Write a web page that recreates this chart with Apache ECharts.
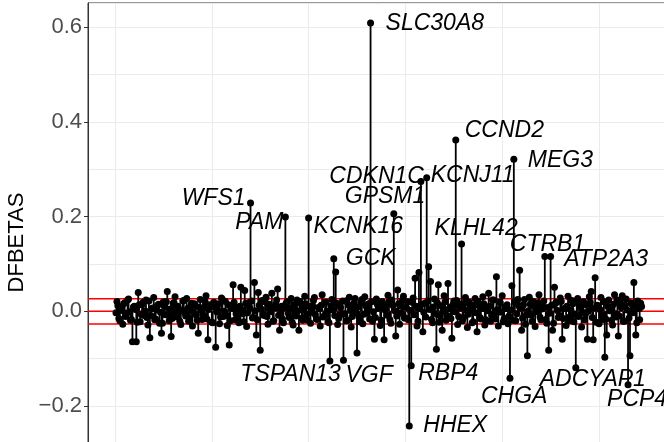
<!DOCTYPE html>
<html style="height: 100%">
<head>
    <meta charset="UTF-8">
    <title>DFBETAS</title>
</head>
<body style="height: 100%; margin: 0">
    <div id="container" style="width: 664px; height: 442px"></div>

    <script src="https://cdn.jsdelivr.net/npm/echarts@6/dist/echarts.min.js"></script>

    <script type="text/javascript">
        // DFBETAS per gene, gene order 1..544
        var dfbetas = [
            -0.003, 0.021, 0.012, -0.015, -0.020, 0.008, 0.002, -0.027, 0.016, 0.018, -0.011, -0.004, 0.024, 0.026, -0.001, -0.019,
            -0.017, -0.064, 0.009, 0.011, 0.004, -0.064, -0.023, 0.040, 0.014, -0.022, -0.006, 0.015, 0.019, -0.009, 0.001, 0.024,
            -0.013, -0.029, 0.022, -0.056, -0.009, 0.006, 0.007, 0.029, -0.018, -0.016, 0.003, 0.013, 0.015, -0.025, -0.002, -0.046,
            -0.025, 0.020, 0.010, -0.007, 0.020, 0.042, -0.008, -0.020, 0.005, -0.053, -0.015, 0.017, 0.018, 0.031, -0.004, -0.012,
            0.011, 0.005, -0.021, -0.028, 0.001, 0.022, 0.023, -0.003, -0.010, 0.027, 0.006, -0.021, -0.014, 0.010, 0.017, -0.031,
            -0.002, 0.016, 0.013, -0.008, -0.019, -0.046, 0.008, 0.025, 0.002, -0.017, -0.007, 0.009, 0.021, 0.033, -0.016, -0.060,
            0.004, 0.014, 0.012, -0.023, -0.024, 0.019, 0.009, -0.076, -0.001, 0.004, 0.016, -0.026, -0.012, 0.028, 0.025, -0.011,
            0.000, 0.021, -0.009, -0.030, 0.014, -0.071, -0.020, 0.012, 0.006, 0.056, 0.019, -0.018, -0.005, 0.007, -0.015, -0.024,
            0.011, 0.051, 0.003, -0.005, -0.022, 0.044, 0.017, -0.032, -0.003, 0.018, 0.008, 0.229, 0.022, -0.014, -0.013, 0.061,
            0.001, -0.050, -0.018, 0.040, 0.013, -0.082, 0.005, 0.023, -0.006, -0.009, 0.020, 0.030, -0.011, -0.027, 0.015, 0.006,
            -0.001, 0.038, -0.021, -0.020, 0.009, 0.015, 0.024, 0.047, -0.008, -0.040, 0.002, 0.011, -0.016, -0.024, 0.012, 0.199,
            0.018, 0.020, -0.004, -0.013, 0.007, 0.027, -0.023, -0.029, 0.014, 0.003, -0.010, 0.024, 0.001, -0.040, 0.021, 0.016,
            -0.014, -0.019, 0.004, 0.032, 0.016, -0.007, -0.019, 0.197, 0.010, -0.025, -0.002, 0.012, 0.023, 0.029, -0.007, -0.016,
            -0.017, 0.008, 0.006, -0.031, 0.013, 0.035, -0.012, -0.010, 0.019, 0.019, 0.000, -0.022, -0.024, -0.105, 0.011, 0.025,
            0.003, 0.111, -0.009, 0.083, 0.017, -0.028, -0.015, 0.014, 0.008, -0.006, 0.022, -0.103, -0.005, 0.022, -0.020, -0.019,
            0.014, 0.030, 0.002, -0.033, -0.011, 0.010, 0.018, 0.027, -0.003, -0.088, 0.009, -0.012, -0.022, 0.018, 0.025, -0.026,
            -0.006, 0.031, 0.012, -0.004, 0.005, 0.016, -0.016, 0.609, 0.020, -0.021, -0.001, -0.059, -0.013, 0.026, 0.015, 0.007,
            0.007, -0.030, -0.019, 0.021, 0.010, -0.060, 0.003, 0.013, -0.008, 0.034, 0.021, -0.018, -0.025, 0.024, 0.013, 0.206,
            0.001, -0.052, -0.010, 0.045, 0.016, -0.027, -0.004, 0.011, 0.024, 0.032, -0.014, -0.014, 0.008, 0.020, -0.018, -0.242,
            0.002, -0.115, 0.019, 0.028, -0.007, 0.070, 0.011, -0.031, -0.021, 0.082, 0.006, 0.274, 0.015, -0.043, -0.002, 0.017,
            -0.012, 0.282, 0.022, 0.094, 0.004, 0.063, -0.017, -0.024, 0.009, 0.026, -0.005, -0.080, 0.018, 0.056, -0.023, -0.010,
            0.012, -0.040, 0.000, 0.033, 0.020, -0.019, -0.009, 0.059, 0.005, 0.008, -0.015, -0.057, 0.014, 0.022, -0.001, 0.362,
            0.023, -0.028, -0.011, 0.015, 0.007, 0.142, -0.020, -0.013, 0.017, 0.029, 0.002, -0.034, -0.006, 0.019, 0.010, 0.004,
            -0.024, -0.022, 0.013, 0.027, -0.003, -0.043, 0.021, 0.012, -0.013, -0.016, 0.006, 0.031, 0.016, -0.029, -0.018, 0.009,
            0.001, 0.038, 0.011, -0.021, -0.008, 0.024, 0.024, -0.006, -0.016, 0.073, 0.004, -0.031, 0.019, 0.018, -0.002, 0.033,
            -0.022, -0.015, 0.009, 0.006, 0.014, -0.026, -0.010, -0.141, 0.003, 0.054, -0.019, 0.321, 0.020, -0.020, -0.005, 0.025,
            0.012, 0.087, 0.007, -0.040, -0.014, 0.014, 0.025, -0.027, -0.007, -0.094, 0.001, 0.030, 0.015, -0.008, -0.021, 0.021,
            0.010, -0.032, -0.001, 0.017, 0.018, 0.035, -0.012, -0.018, 0.005, 0.010, 0.022, 0.116, -0.017, -0.025, 0.008, -0.082,
            -0.004, 0.116, 0.013, -0.040, -0.025, 0.051, 0.017, 0.019, 0.002, -0.013, -0.009, 0.028, 0.021, -0.059, -0.015, 0.006,
            0.006, -0.030, 0.011, 0.032, -0.020, -0.011, 0.003, 0.023, 0.016, -0.022, -0.006, -0.119, 0.023, 0.027, -0.011, 0.014,
            0.009, -0.033, -0.002, 0.020, -0.018, -0.005, 0.014, -0.059, 0.000, 0.031, 0.019, 0.042, -0.013, -0.060, 0.007, 0.071,
            -0.023, 0.013, 0.012, -0.026, 0.004, 0.029, -0.008, -0.017, 0.020, -0.097, -0.016, -0.050, 0.010, 0.024, 0.001, 0.008,
            -0.019, -0.029, 0.015, 0.035, -0.005, -0.012, 0.024, -0.052, -0.010, 0.018, 0.008, 0.033, -0.021, -0.021, 0.013, 0.026,
            0.003, -0.155, -0.014, -0.094, 0.018, 0.015, -0.003, 0.061, 0.011, -0.050, -0.024, 0.022, 0.006, -0.018, 0.017, 0.010
        ];

        // labelled genes (position in the order above)
        var geneIndex = [140, 176, 200, 222, 226, 236, 264, 288, 304, 306, 316, 322, 352, 358, 408, 412, 444, 476, 496, 530];
        var geneNames = ['WFS1', 'PAM', 'KCNK16', 'TSPAN13', 'GCK', 'VGF', 'SLC30A8', 'GPSM1', 'HHEX', 'RBP4',
            'CDKN1C', 'KCNJ11', 'CCND2', 'KLHL42', 'CHGA', 'MEG3', 'CTRB1', 'ADCYAP1', 'ATP2A3', 'PCP4'];

        // cutoff lines
        var cutoffs = [0.0265, 0, -0.0265];

        // axis ranges
        var xMin = -27.9, xMax = 575.4;
        var yMin = -0.3603, yMax = 0.651;

        // where each repelled label sits relative to its point
        var labelPlace = {
            WFS1: ['right', -5, -4], PAM: ['right', -2, 6], KCNK16: ['left', 5, 9],
            TSPAN13: ['right', 11, 14], GCK: ['left', 12, 0], VGF: ['left', 2, 15],
            SLC30A8: ['left', 15, 1], GPSM1: ['left', -49, -17], HHEX: ['left', 14, 0],
            RBP4: ['left', 7, 8], CDKN1C: ['right', 3, -5], KCNJ11: ['left', 4, -2],
            CCND2: ['left', 9, -9], KLHL42: ['left', -27, -15], CHGA: ['left', -29, 18],
            MEG3: ['left', 14, 1], CTRB1: ['left', -35, -12], ADCYAP1: ['left', -36, 12],
            ATP2A3: ['left', -31, -18], PCP4: ['left', -21, 15]
        };

        var dom = document.getElementById('container');
        var myChart = echarts.init(dom, null, {renderer: 'canvas'});

        var points = [];
        var sticks = [];
        for (var i = 0; i < dfbetas.length; i++) {
            var x = i + 1;
            sticks.push([x, dfbetas[i]]);
            var k = geneIndex.indexOf(x);
            if (k >= 0) {
                var p = labelPlace[geneNames[k]];
                points.push({
                    value: [x, dfbetas[i]],
                    label: {
                        show: true,
                        formatter: geneNames[k],
                        position: 'inside',
                        align: p[0],
                        verticalAlign: 'middle',
                        offset: [p[1], p[2]]
                    }
                });
            } else {
                points.push([x, dfbetas[i]]);
            }
        }

        // red cutoff lines as plain line series, under the sticks and points
        var series = cutoffs.map(function (c) {
            return {
                type: 'line',
                data: [[xMin, c], [xMax, c]],
                symbol: 'none',
                silent: true,
                lineStyle: {color: '#FF0000', width: 1.5},
                z: 1
            };
        });
        series.push({
            type: 'bar',
            data: sticks,
            barWidth: 1.8,
            itemStyle: {color: '#000000'},
            z: 2
        });
        series.push({
            type: 'scatter',
            data: points,
            symbolSize: 7,
            itemStyle: {color: '#000000', opacity: 1},
            label: {
                color: '#000000',
                fontSize: 23,
                fontStyle: 'italic',
                fontFamily: 'Liberation Sans'
            },
            z: 3
        });

        var option = {
            animation: false,
            backgroundColor: '#ffffff',
            grid: {
                left: 88, top: 3, right: -8, bottom: -40,
                containLabel: false,
                outerBoundsMode: 'none',
                show: true, borderColor: '#333333', borderWidth: 1
            },
            xAxis: [{
                type: 'value',
                min: xMin,
                max: xMax,
                axisLine: {show: false},
                axisTick: {show: false},
                axisLabel: {show: false},
                splitLine: {show: true, lineStyle: {color: '#EBEBEB', width: 1}}
            }],
            yAxis: [{
                type: 'value',
                min: yMin,
                max: yMax,
                name: 'DFBETAS',
                nameLocation: 'middle',
                nameGap: 51,
                nameTextStyle: {fontSize: 22, color: '#000000', fontFamily: 'Liberation Sans'},
                axisLine: {show: true, onZero: false, lineStyle: {color: '#333333', width: 1}},
                axisTick: {show: true, length: 4, lineStyle: {color: '#333333'}},
                axisLabel: {
                    fontSize: 22, color: '#4D4D4D', fontFamily: 'Liberation Sans', margin: 6,
                    showMinLabel: false, showMaxLabel: false,
                    formatter: function (v) { return v.toFixed(1).replace('-', '\u2212'); }
                },
                splitLine: {show: false}
            }, {
                // finer grid, every 0.1
                type: 'value',
                min: yMin,
                max: yMax,
                splitNumber: 10,
                axisLine: {show: false},
                axisTick: {show: false},
                axisLabel: {show: false},
                splitLine: {show: true, lineStyle: {color: '#EBEBEB', width: 1}}
            }],
            series: series
        };

        myChart.setOption(option);
    </script>
</body>
</html>
